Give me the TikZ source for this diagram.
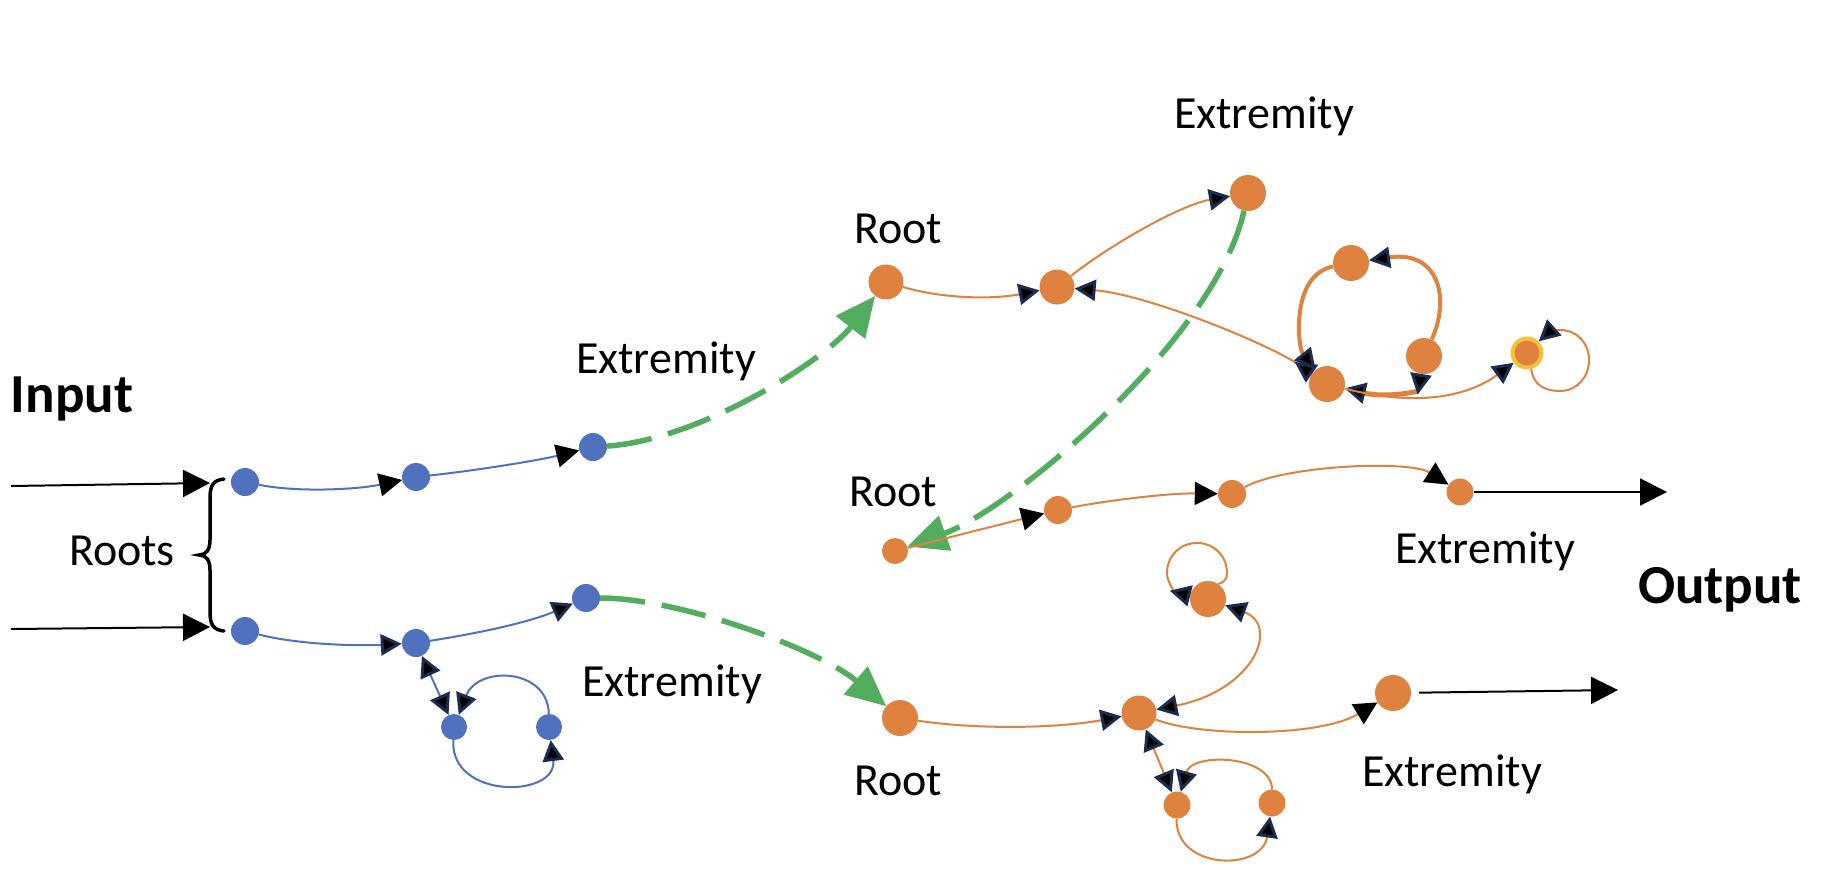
\documentclass[tikz,border=0pt]{standalone}
\usepackage{fontspec}
\setmainfont{Carlito}
\usetikzlibrary{arrows.meta}
\definecolor{bluec}{HTML}{4F71BE}
\definecolor{orc}{HTML}{E0823F}
\definecolor{grc}{HTML}{52AE5E}
\definecolor{navc}{HTML}{1C2B50}
\definecolor{yelc}{HTML}{F4C13B}
\begin{document}
\begin{tikzpicture}[x=1pt,y=-1pt,
  bdot/.style={circle,fill=bluec,inner sep=0pt,minimum size=28pt},
  odot/.style={circle,fill=orc,inner sep=0pt,minimum size=36pt},
  osm/.style={circle,fill=orc,inner sep=0pt,minimum size=27pt},
  lbl/.style={font=\fontsize{46}{50}\selectfont,inner sep=0pt,anchor=base},
  blbl/.style={font=\fontsize{55}{60}\selectfont\bfseries,inner sep=0pt,anchor=base},
  bedge/.style={draw=bluec,line width=2pt},
  oedge/.style={draw=orc,line width=2pt},
  othick/.style={draw=orc,line width=4pt},
  gdash/.style={draw=grc,line width=5.5pt,dash pattern=on 45pt off 17pt,-{Triangle[length=40pt,width=36pt]}},
  bigtip/.style={draw=black,line width=2pt,-{Triangle[length=27pt,width=27pt]}},
  blk/.style={-{Triangle[length=23pt,width=23pt,color=black]}},
  nav/.style={-{Triangle[length=21pt,width=21pt,color=navc,fill=black,line width=3pt]}},
  navboth/.style={{Triangle[length=21pt,width=21pt,color=navc,fill=black,line width=3pt]}-{Triangle[length=21pt,width=21pt,color=navc,fill=black,line width=3pt]}},
  navrev/.style={{Triangle[reversed,length=21pt,width=21pt,color=navc,fill=black,line width=3pt]}-{Triangle[length=21pt,width=21pt,color=navc,fill=black,line width=3pt]}},
  navstart/.style={{Triangle[reversed,length=21pt,width=21pt,color=navc,fill=black,line width=3pt]}-}
]
\useasboundingbox (0,0) rectangle (1836,884);

% ---------- labels ----------
\node[blbl] (tInput) at (72,412) {Input};
\node[blbl] (tOutput) at (1720,603) {Output};
\node[lbl] (tRoots) at (122,565) {Roots};
\node[lbl] (tRootA) at (898,243) {Root};
\node[lbl] (tRootB) at (893,506) {Root};
\node[lbl] (tRootC) at (898,795) {Root};
\node[lbl] (tExtA) at (1264,128) {Extremity};
\node[lbl] (tExtB) at (666,373) {Extremity};
\node[lbl] (tExtC) at (1485,563) {Extremity};
\node[lbl] (tExtD) at (672,696) {Extremity};
\node[lbl] (tExtE) at (1452,786) {Extremity};

% ---------- blue nodes ----------
\node[bdot] (b1) at (245,482) {};
\node[bdot] (b2) at (416,477) {};
\node[bdot] (b3) at (593,447) {};
\node[bdot] (c1) at (245,631) {};
\node[bdot] (c2) at (416,643) {};
\node[bdot] (c3) at (586,598) {};
\node[bdot,minimum size=26pt] (L1) at (454,727) {};
\node[bdot,minimum size=26pt] (L2) at (549,727) {};

% ---------- orange nodes ----------
\node[odot,minimum size=35pt] (r1) at (886,282) {};
\node[odot,minimum size=35pt] (o2) at (1057,287) {};
\node[odot] (ext1) at (1248,193) {};
\node[odot] (LT) at (1351,263) {};
\node[odot] (LR) at (1424,356) {};
\node[odot] (LB) at (1327,384) {};
\node[circle,fill=orc,draw=yelc,line width=4pt,inner sep=0pt,minimum size=29pt] (yel) at (1527,353) {};
\node[osm,minimum size=26pt] (r2) at (895,551) {};
\node[osm,minimum size=28pt] (ob) at (1058,510) {};
\node[osm,minimum size=28pt] (oc) at (1232,494) {};
\node[osm] (od) at (1460,492) {};
\node[odot] (r3) at (900,718) {};
\node[odot,minimum size=35pt] (oe) at (1139,713) {};
\node[odot] (os) at (1208,599) {};
\node[odot] (of) at (1393,693) {};
\node[osm] (d1) at (1177,805) {};
\node[osm] (d2) at (1272,803) {};

% ---------- input / output ----------
\coordinate (in1s) at (11,486);
\coordinate (in1e) at (210,483);
\coordinate (in2s) at (11,629);
\coordinate (in2e) at (210,627);
\coordinate (out1) at (1667,492);
\coordinate (out2) at (1618,690);
\draw[bigtip] (in1s) -- (in1e);
\draw[bigtip] (in2s) -- (in2e);
\draw[bigtip] (od) -- (out1);
\draw[bigtip,shorten <=8pt] (of) -- (out2);

% brace
\draw[line width=3.5pt,line cap=round] (224,479) .. controls (213,480) and (210,486) .. (210,498) -- (210,540)
  .. controls (210,550) and (206,555) .. (199,555) .. controls (206,555) and (210,560) .. (210,570)
  -- (210,612) .. controls (210,624) and (213,630) .. (224,631);

% ---------- blue edges ----------
\draw[bedge,blk] (b1) .. controls (300,493) and (360,489) .. (b2);
\draw[bedge,blk] (b2) .. controls (480,470) and (540,460) .. (b3);
\draw[bedge,nav] (c1) .. controls (300,645) and (360,646) .. (c2);
\draw[bedge,nav] (c2) .. controls (480,633) and (530,622) .. (c3);
\draw[bedge,navboth] (c2) -- (L1);
\draw[bedge,nav] (L1) .. controls (450,800) and (558,798) .. (L2);
\draw[bedge,nav] (L2) .. controls (548,668) and (478,665) .. (L1);

% ---------- green dashed ----------
\draw[gdash] (b3) .. controls (700,440) and (825,360) .. (r1);
\draw[gdash] (c3) .. controls (680,598) and (820,650) .. (r3);
\draw[gdash] (ext1) .. controls (1215,340) and (1010,510) .. (r2);

% ---------- orange edges, top group ----------
\draw[oedge,nav] (r1) .. controls (940,298) and (990,300) .. (o2);
\draw[oedge,nav] (o2) .. controls (1110,245) and (1180,205) .. (ext1);
\draw[oedge,navrev] (LB) .. controls (1270,345) and (1150,295) .. (o2);
\draw[othick,nav] (LT) .. controls (1290,275) and (1298,348) .. (LB);
\draw[othick,nav] (LR) .. controls (1450,300) and (1440,250) .. (LT);
\draw[draw=orc,line width=5pt,navrev] (LR) .. controls (1418,392) and (1385,398) .. (LB);
\draw[oedge,nav] (LB) .. controls (1420,408) and (1470,395) .. (yel);
\coordinate (yb) at (1560,391);
\coordinate (yr) at (1589,360);
\coordinate (yt) at (1560,330);
\draw[oedge,nav] (yel.-75) .. controls (1533,385) and (1545,391) .. (yb)
  .. controls (1577,391) and (1589,377) .. (yr)
  .. controls (1589,343) and (1577,330) .. (yt)
  .. controls (1554,330) and (1548,333) .. (yel.45);

% ---------- orange edges, middle chain ----------
\draw[oedge,blk] (r2) -- (ob);
\draw[oedge,blk] (ob) .. controls (1110,500) and (1170,493) .. (oc);
\draw[oedge,blk] (oc) .. controls (1285,465) and (1410,460) .. (od);

% ---------- orange edges, bottom group ----------
\draw[oedge,nav] (r3) .. controls (980,730) and (1060,728) .. (oe);
\draw[oedge,navboth] (oe) .. controls (1255,690) and (1280,625) .. (os);
\coordinate (sl) at (1167,573);
\coordinate (st) at (1197,543);
\coordinate (sr) at (1227,573);
\draw[oedge,navstart] (os.170) .. controls (1175,592) and (1167,582) .. (sl)
  .. controls (1167,556) and (1180,543) .. (st)
  .. controls (1214,543) and (1227,556) .. (sr)
  .. controls (1227,578) and (1225,582) .. (os.55);
\draw[oedge,navboth] (oe) -- (d1);
\draw[oedge,nav] (d1) .. controls (1175,870) and (1262,872) .. (d2);
\draw[oedge,nav] (d2) .. controls (1272,755) and (1192,752) .. (d1);
\draw[oedge,blk] (oe) .. controls (1200,737) and (1320,737) .. (of);
\end{tikzpicture}
\end{document}
